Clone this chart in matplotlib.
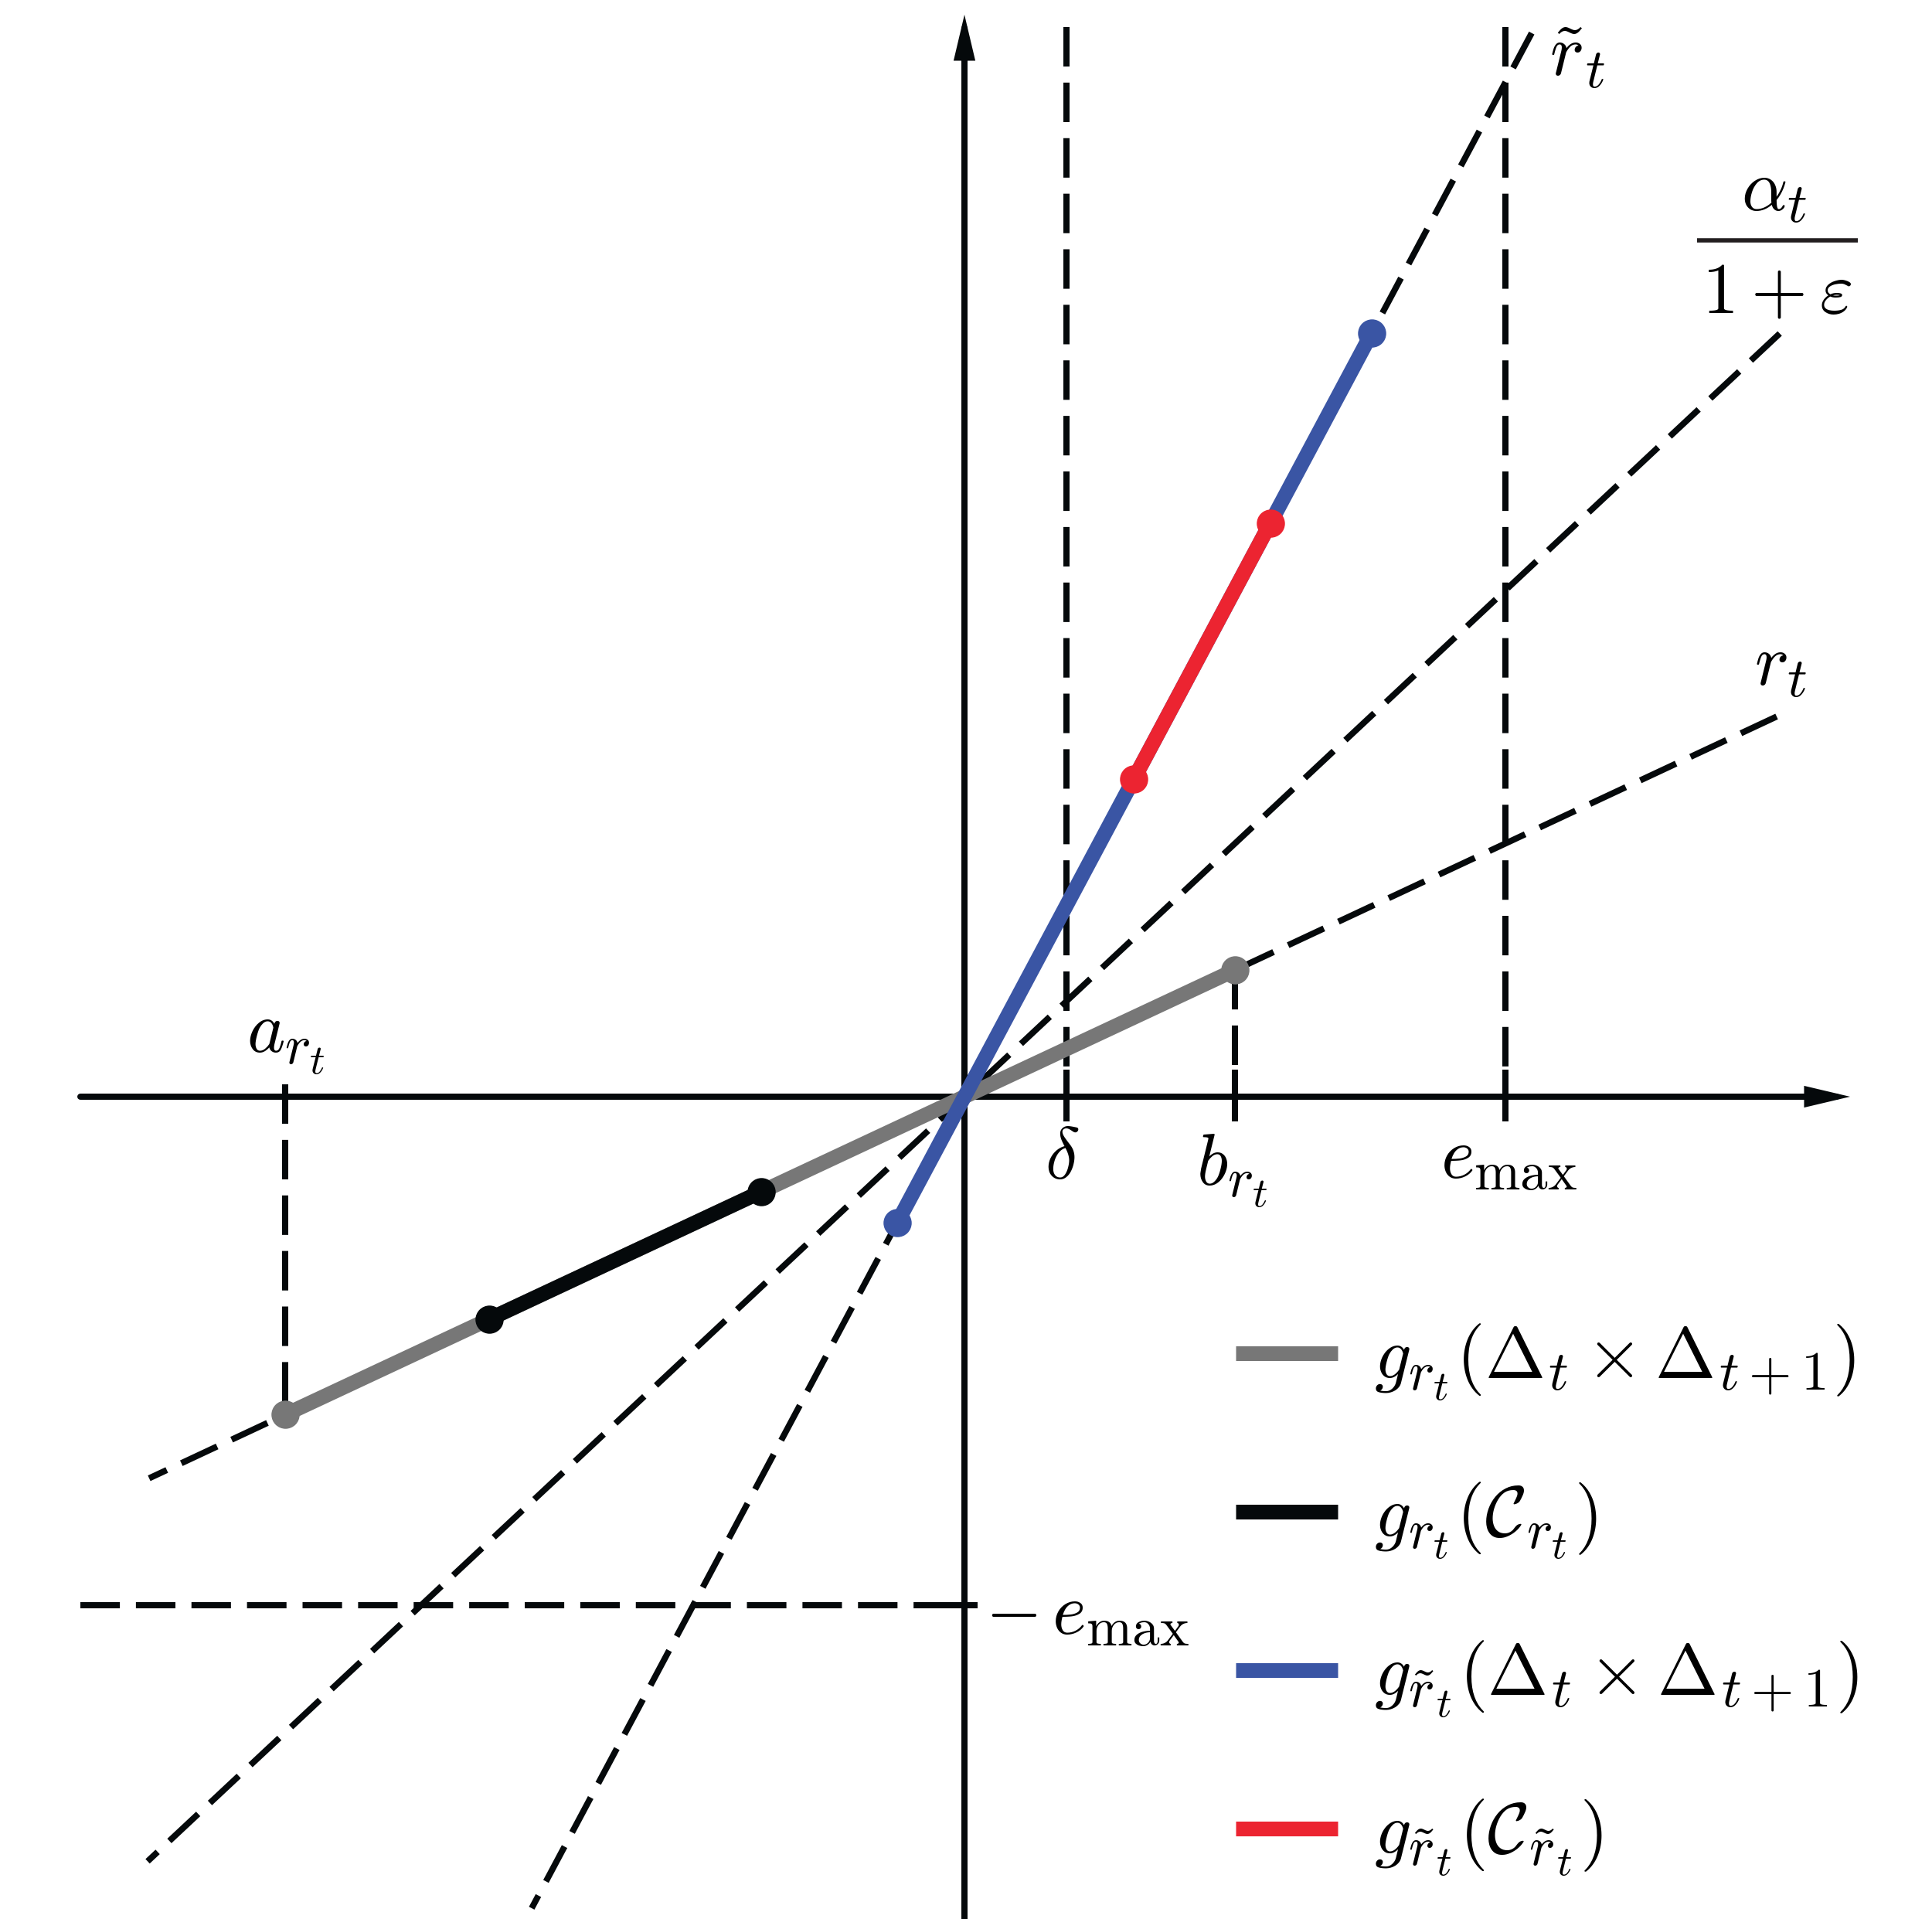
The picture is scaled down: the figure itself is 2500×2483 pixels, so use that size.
import numpy as np
import matplotlib
matplotlib.use("Agg")
import matplotlib.pyplot as plt
from matplotlib.patches import FancyArrowPatch, ArrowStyle

try:
    import matplotlib._mathtext as _mt
    _mt.SHRINK_FACTOR = 0.76   # LaTeX-like larger sub/superscripts
except Exception:
    pass

plt.rcParams['mathtext.fontset'] = 'cm'
plt.rcParams['font.family'] = ['DejaVu Sans']

# ---------------- data (schematic values) ----------------
slope_r = 0.468          # r_t
slope_alpha = 0.936      # alpha_t / (1+eps)
slope_rtilde = 1.875     # r~_t

x_a = -8.79
x_delta = 1.32
x_b = 3.50
x_emax = 7.00
y_neg_emax = -6.58

line_names = ['r', 'alpha', 'rtilde']
line_slopes = [slope_r, slope_alpha, slope_rtilde]
line_x_start = [-10.55, -10.57, -5.60]
line_x_end = [10.51, 10.55, 7.34]

seg_labels = [r'$g_{r_t}(\Delta_t\times\Delta_{t+1})$',
              r'$g_{r_t}(\mathcal{C}_{r_t})$',
              r'$g_{\tilde{r}_t}(\Delta_t\times\Delta_{t+1})$',
              r'$g_{\tilde{r}_t}(\mathcal{C}_{\tilde{r}_t})$']
seg_slopes = [slope_r, slope_r, slope_rtilde, slope_rtilde]
seg_x0 = [x_a, -6.15, -0.87, 2.19]
seg_x1 = [x_b, -2.63, 5.27, 3.96]
seg_colors = ['#777777', '#05090b', '#3a55a4', '#ec2431']

# ---------------- figure ----------------
fig = plt.figure(figsize=(10, 9.932), dpi=250)
ax = fig.add_axes([0, 0, 1, 1])
ax.set_xlim(-12.48, 12.52)
ax.set_ylim(-10.64, 14.19)
ax.axis('off')

K = '#05090b'
LW = 2.3
DASH = (6.4, 2.6)
FS = 27

# axes arrows
def arrow(p0, p1):
    a = FancyArrowPatch(p0, p1, arrowstyle=ArrowStyle('-|>', head_length=11, head_width=2.6),
                        mutation_scale=1, lw=LW, color=K, shrinkA=0, shrinkB=0,
                        joinstyle='miter', zorder=3)
    ax.add_patch(a)

arrow((-11.44, 0), (11.46, 0))
arrow((0, -10.7), (0, 14.0))

# dashed lines through origin
for s, x0, x1 in zip(line_slopes, line_x_start, line_x_end):
    xs = np.array([x1, x0])
    ax.plot(xs, s * xs, color=K, lw=LW, dashes=DASH, zorder=2, solid_capstyle='butt')

# dashed verticals
for xv in [x_delta, x_emax]:
    ax.plot([xv, xv], [13.84, 0], color=K, lw=LW, dashes=DASH, zorder=2)
ax.plot([x_b, x_b], [slope_r * x_b, 0], color=K, lw=LW, dashes=DASH, zorder=2)
ax.plot([x_a, x_a], [0.16, slope_r * x_a], color=K, lw=LW, dashes=DASH, zorder=2)
# x ticks
for xv in [x_delta, x_b, x_emax]:
    ax.plot([xv, xv], [0.35, -0.32], color=K, lw=LW, zorder=3, solid_capstyle='butt')
# horizontal -e_max line
ax.plot([-11.44, 0], [y_neg_emax, y_neg_emax], color=K, lw=LW, dashes=DASH, zorder=2)
ax.plot([-0.33, 0.17], [y_neg_emax, y_neg_emax], color=K, lw=LW, zorder=3, solid_capstyle='butt')

# coloured segments
handles = []
for lab, s, x0, x1, c in zip(seg_labels, seg_slopes, seg_x0, seg_x1, seg_colors):
    xs = np.array([x0, x1])
    ln, = ax.plot(xs, s * xs, color=c, lw=5.5, solid_capstyle='butt', zorder=4, label=lab)
    ax.plot(xs, s * xs, 'o', color=c, ms=9.5, zorder=5)
    handles.append(ln)

# labels
ax.text(7.93, 13.47, r'$\tilde{r}_t$', fontsize=FS, ha='center', va='center')
# fraction alpha_t / (1 + eps), built from numerator, bar and denominator
ax.text(10.48, 11.72, r'$\alpha_t$', fontsize=FS, ha='center', va='center')
ax.plot([9.48, 11.56], [11.08, 11.08], color='#231f20', lw=1.6, solid_capstyle='butt')
ax.text(10.51, 10.41, r'$1+\varepsilon$', fontsize=FS, ha='center', va='center')
ax.text(10.56, 5.58, r'$r_t$', fontsize=FS, ha='center', va='center')
ax.text(-8.78, 0.72, r'$a_{r_t}$', fontsize=FS, ha='center', va='center')
ax.text(1.26, -0.80, r'$\delta$', fontsize=FS, ha='center', va='center')
ax.text(3.46, -0.96, r'$b_{r_t}$', fontsize=FS, ha='center', va='center')
ax.text(7.05, -0.80, r'$e_{\max}$', fontsize=FS, ha='center', va='center')
ax.text(0.27, -6.70, r'$-\,e_{\max}$', fontsize=FS, ha='left', va='center')

leg = ax.legend(handles=handles, loc='upper left', bbox_to_anchor=(0.6397, 0.311),
                frameon=False, fontsize=FS, handlelength=1.40, handletextpad=0.51,
                labelspacing=1.07, borderpad=0, borderaxespad=0)

fig.savefig('out.png', dpi=250)
